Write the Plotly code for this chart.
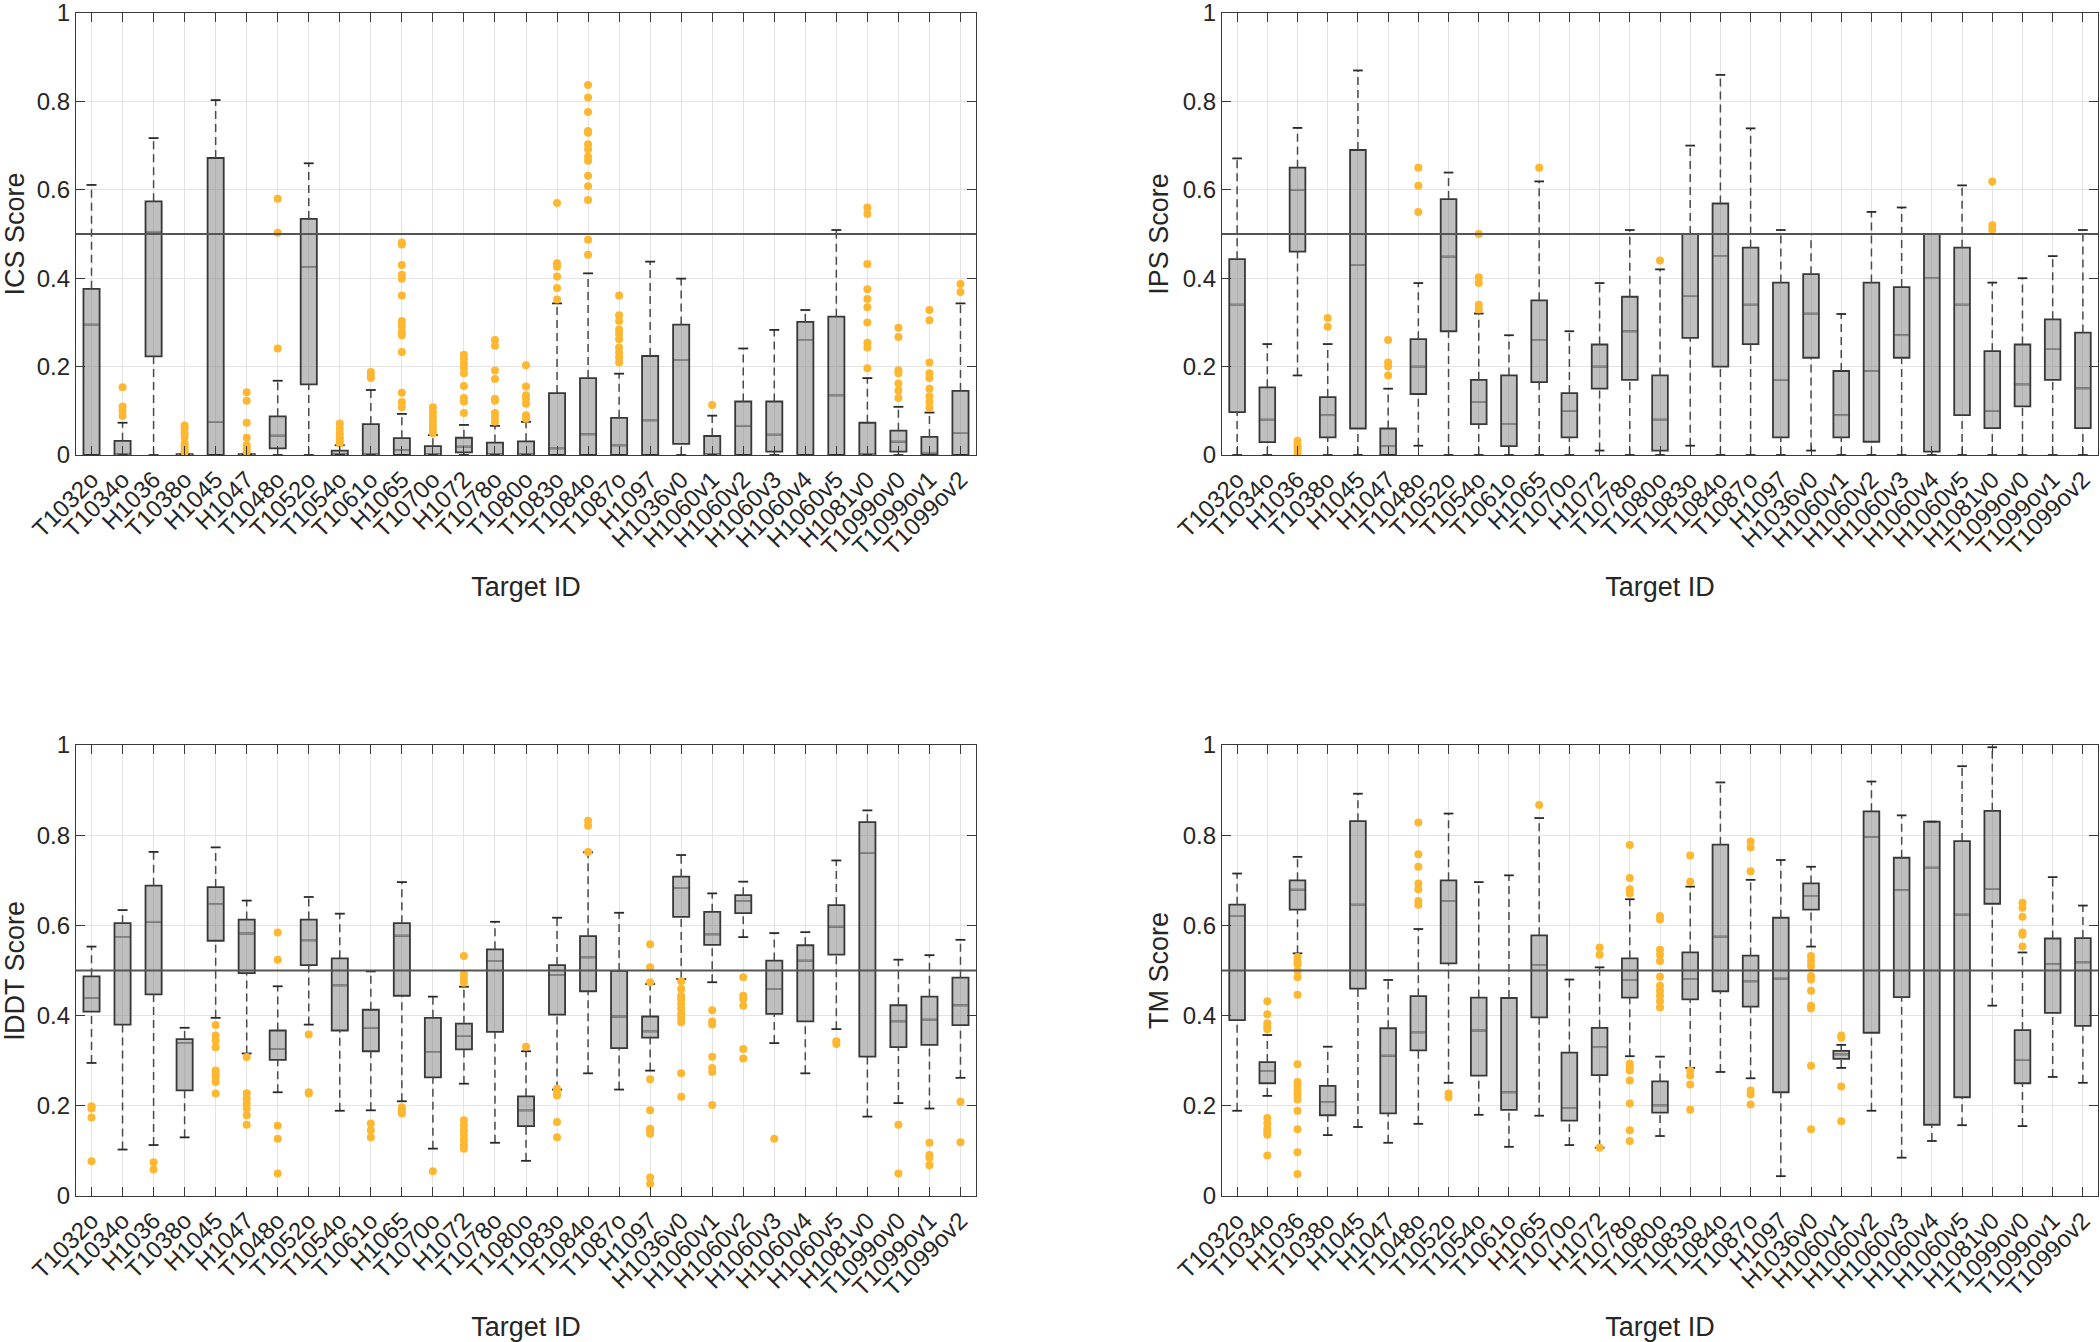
import plotly.graph_objects as go

CATEGORIES = ["T1032o", "T1034o", "H1036", "T1038o", "H1045", "H1047", "T1048o",
              "T1052o", "T1054o", "T1061o", "H1065", "T1070o", "H1072", "T1078o",
              "T1080o", "T1083o", "T1084o", "T1087o", "H1097", "H1036v0", "H1060v1",
              "H1060v2", "H1060v3", "H1060v4", "H1060v5", "H1081v0", "T1099ov0",
              "T1099ov1", "T1099ov2"]
Y_TICKS = [0, 0.2, 0.4, 0.6, 0.8, 1]
Y_TICK_LABELS = ["0", "0.2", "0.4", "0.6", "0.8", "1"]
THRESHOLD = 0.5

# ---------------- ICS ----------------
ICS_Q1 = [0, 0, 0.223, 0, 0, 0, 0.015, 0.160, 0, 0, 0, 0, 0.006, 0, 0,
          0, 0, 0, 0, 0.025, 0, 0, 0.0075, 0, 0, 0, 0.0075, 0, 0]
ICS_MED = [0.295, 0.002, 0.505, 0, 0.075, 0, 0.044, 0.425, 0.002, 0.002, 0.011, 0.002, 0.019, 0.002, 0.002,
           0.015, 0.047, 0.022, 0.0785, 0.215, 0.002, 0.066, 0.046, 0.26, 0.135, 0.002, 0.03, 0.005, 0.05]
ICS_Q3 = [0.376, 0.032, 0.574, 0.002, 0.672, 0.002, 0.0875, 0.534, 0.0097, 0.070, 0.038, 0.020, 0.039, 0.028, 0.031,
          0.140, 0.174, 0.084, 0.224, 0.295, 0.043, 0.121, 0.121, 0.301, 0.313, 0.073, 0.055, 0.041, 0.145]
ICS_LO = [0, 0, 0, 0, 0, 0, 0, 0, 0, 0, 0, 0, 0, 0, 0,
          0, 0, 0, 0, 0, 0, 0, 0, 0, 0, 0, 0, 0, 0]
ICS_HI = [0.611, 0.073, 0.717, 0.002, 0.803, 0.002, 0.168, 0.660, 0.022, 0.147, 0.093, 0.045, 0.068, 0.066, 0.075,
          0.343, 0.411, 0.184, 0.4375, 0.399, 0.089, 0.241, 0.283, 0.328, 0.509, 0.174, 0.109, 0.096, 0.343]
ICS_OUT = [
    [],
    [0.153, 0.110, 0.100, 0.088],
    [],
    [0.067, 0.060, 0.049, 0.040, 0.026, 0.019, 0.011, 0.006],
    [],
    [0.142, 0.123, 0.073, 0.039, 0.022, 0.015, 0.007],
    [0.580, 0.503, 0.241],
    [],
    [0.071, 0.060, 0.049, 0.040, 0.034, 0.026],
    [0.188, 0.181, 0.174],
    [0.481, 0.476, 0.430, 0.408, 0.399, 0.361, 0.303, 0.292, 0.279, 0.271, 0.233, 0.141, 0.120, 0.108],
    [0.108, 0.097, 0.086, 0.077, 0.067, 0.058, 0.049],
    [0.227, 0.217, 0.206, 0.197, 0.185, 0.156, 0.129, 0.121, 0.095],
    [0.260, 0.247, 0.191, 0.172, 0.127, 0.123, 0.095, 0.086, 0.075],
    [0.203, 0.155, 0.135, 0.127, 0.116, 0.090, 0.082],
    [0.570, 0.434, 0.426, 0.404, 0.378, 0.352],
    [0.837, 0.809, 0.776, 0.733, 0.729, 0.703, 0.692, 0.675, 0.666, 0.632, 0.608, 0.577, 0.487, 0.453],
    [0.361, 0.316, 0.303, 0.284, 0.273, 0.262, 0.243, 0.232, 0.221, 0.209],
    [],
    [],
    [0.113],
    [],
    [],
    [],
    [],
    [0.560, 0.545, 0.432, 0.375, 0.353, 0.334, 0.300, 0.254, 0.243, 0.196],
    [0.288, 0.267, 0.192, 0.185, 0.162, 0.146, 0.129],
    [0.328, 0.305, 0.209, 0.185, 0.174, 0.150, 0.133, 0.120, 0.107],
    [0.387, 0.369],
]

# ---------------- IPS ----------------
IPS_Q1 = [0.097, 0.029, 0.460, 0.040, 0.060, 0, 0.138, 0.280, 0.070, 0.020, 0.165, 0.040, 0.150, 0.170, 0.010,
          0.265, 0.200, 0.251, 0.040, 0.220, 0.040, 0.030, 0.220, 0.0075, 0.090, 0.061, 0.110, 0.170, 0.061]
IPS_MED = [0.340, 0.080, 0.600, 0.090, 0.430, 0.020, 0.200, 0.449, 0.120, 0.070, 0.260, 0.100, 0.200, 0.280, 0.080,
           0.360, 0.450, 0.340, 0.170, 0.320, 0.090, 0.190, 0.271, 0.400, 0.340, 0.100, 0.160, 0.240, 0.151]
IPS_Q3 = [0.443, 0.153, 0.650, 0.131, 0.690, 0.060, 0.262, 0.579, 0.170, 0.180, 0.350, 0.140, 0.250, 0.358, 0.180,
          0.500, 0.569, 0.469, 0.390, 0.409, 0.190, 0.390, 0.380, 0.500, 0.469, 0.235, 0.250, 0.307, 0.277]
IPS_LO = [0, 0, 0.180, 0, 0, 0, 0.021, 0, 0, 0, 0, 0, 0.010, 0, 0,
          0.021, 0, 0, 0, 0.010, 0, 0, 0, 0, 0, 0, 0, 0, 0]
IPS_HI = [0.671, 0.251, 0.740, 0.251, 0.870, 0.150, 0.389, 0.639, 0.320, 0.271, 0.619, 0.280, 0.389, 0.509, 0.420,
          0.700, 0.860, 0.739, 0.509, 0.500, 0.319, 0.550, 0.560, 0.500, 0.610, 0.390, 0.400, 0.450, 0.509]
IPS_OUT = [
    [], [],
    [0.032, 0.022, 0.015, 0.0075, 0.0],
    [0.310, 0.290],
    [],
    [0.260, 0.209, 0.200, 0.180],
    [0.650, 0.609, 0.550],
    [],
    [0.500, 0.402, 0.389, 0.340, 0.329],
    [],
    [0.650],
    [], [], [],
    [0.440],
    [], [], [], [], [], [], [], [], [], [],
    [0.619, 0.520, 0.510],
    [], [], [],
]

# ---------------- lDDT ----------------
LDDT_Q1 = [0.409, 0.380, 0.447, 0.234, 0.566, 0.494, 0.302, 0.512, 0.367, 0.321, 0.444, 0.263, 0.325, 0.364, 0.155,
           0.402, 0.454, 0.328, 0.351, 0.619, 0.557, 0.627, 0.404, 0.387, 0.535, 0.309, 0.330, 0.335, 0.379]
LDDT_MED = [0.439, 0.574, 0.608, 0.339, 0.647, 0.582, 0.326, 0.567, 0.467, 0.373, 0.577, 0.319, 0.355, 0.521, 0.190,
            0.490, 0.529, 0.398, 0.365, 0.683, 0.580, 0.654, 0.459, 0.522, 0.597, 0.761, 0.387, 0.391, 0.423]
LDDT_Q3 = [0.487, 0.605, 0.688, 0.348, 0.685, 0.613, 0.367, 0.613, 0.527, 0.413, 0.605, 0.395, 0.382, 0.547, 0.221,
           0.512, 0.576, 0.499, 0.398, 0.708, 0.630, 0.667, 0.522, 0.556, 0.645, 0.829, 0.423, 0.442, 0.484]
LDDT_LO = [0.295, 0.103, 0.113, 0.130, 0.395, 0.316, 0.230, 0.380, 0.189, 0.190, 0.210, 0.105, 0.249, 0.118, 0.078,
           0.236, 0.272, 0.236, 0.278, 0.481, 0.474, 0.574, 0.339, 0.272, 0.370, 0.176, 0.206, 0.194, 0.262]
LDDT_HI = [0.553, 0.634, 0.763, 0.373, 0.773, 0.655, 0.465, 0.663, 0.626, 0.498, 0.696, 0.442, 0.464, 0.608, 0.321,
           0.617, 0.762, 0.628, 0.470, 0.756, 0.671, 0.697, 0.583, 0.585, 0.744, 0.855, 0.524, 0.534, 0.568]
LDDT_OUT = [
    [0.199, 0.194, 0.174, 0.077],
    [],
    [0.075, 0.059],
    [],
    [0.379, 0.356, 0.345, 0.330, 0.278, 0.271, 0.264, 0.253, 0.227],
    [0.308, 0.228, 0.216, 0.205, 0.194, 0.179, 0.158],
    [0.584, 0.524, 0.156, 0.127, 0.050],
    [0.358, 0.230, 0.227],
    [],
    [0.161, 0.146, 0.130],
    [0.197, 0.190, 0.183],
    [0.055],
    [0.532, 0.492, 0.483, 0.473, 0.168, 0.157, 0.146, 0.135, 0.124, 0.113, 0.105],
    [],
    [0.331],
    [0.238, 0.227, 0.223, 0.164, 0.130],
    [0.832, 0.821, 0.763],
    [],
    [0.558, 0.507, 0.474, 0.259, 0.190, 0.149, 0.146, 0.138, 0.041, 0.027],
    [0.476, 0.459, 0.444, 0.437, 0.426, 0.415, 0.404, 0.395, 0.385, 0.272, 0.220],
    [0.412, 0.387, 0.380, 0.309, 0.284, 0.275, 0.202],
    [0.485, 0.444, 0.437, 0.422, 0.326, 0.305],
    [0.127],
    [],
    [0.343, 0.337],
    [],
    [0.158, 0.050],
    [0.118, 0.091, 0.085, 0.068],
    [0.209, 0.119],
]

# ---------------- TM ----------------
TM_Q1 = [0.390, 0.250, 0.635, 0.179, 0.460, 0.183, 0.323, 0.516, 0.267, 0.191, 0.396, 0.167, 0.268, 0.440, 0.185,
         0.436, 0.454, 0.420, 0.230, 0.635, 0.304, 0.362, 0.441, 0.158, 0.219, 0.648, 0.250, 0.406, 0.377]
TM_MED = [0.621, 0.277, 0.679, 0.208, 0.646, 0.311, 0.363, 0.654, 0.367, 0.230, 0.512, 0.195, 0.330, 0.479, 0.201,
          0.481, 0.575, 0.476, 0.482, 0.665, 0.314, 0.796, 0.678, 0.728, 0.624, 0.681, 0.302, 0.514, 0.518]
TM_Q3 = [0.646, 0.297, 0.700, 0.244, 0.831, 0.372, 0.443, 0.700, 0.440, 0.439, 0.578, 0.318, 0.373, 0.527, 0.254,
         0.540, 0.779, 0.533, 0.617, 0.693, 0.322, 0.853, 0.750, 0.830, 0.787, 0.854, 0.368, 0.571, 0.572]
TM_LO = [0.189, 0.222, 0.538, 0.135, 0.153, 0.118, 0.160, 0.251, 0.180, 0.109, 0.178, 0.113, 0.107, 0.310, 0.133,
         0.284, 0.275, 0.261, 0.044, 0.553, 0.284, 0.189, 0.085, 0.122, 0.157, 0.422, 0.155, 0.264, 0.251]
TM_HI = [0.715, 0.357, 0.752, 0.331, 0.892, 0.479, 0.592, 0.848, 0.696, 0.711, 0.838, 0.480, 0.507, 0.658, 0.309,
         0.686, 0.917, 0.701, 0.745, 0.730, 0.335, 0.919, 0.844, 0.830, 0.953, 0.995, 0.540, 0.707, 0.644]
TM_OUT = [
    [],
    [0.432, 0.403, 0.383, 0.376, 0.370, 0.173, 0.161, 0.149, 0.142, 0.136, 0.090],
    [0.530, 0.521, 0.514, 0.499, 0.485, 0.446, 0.292, 0.253, 0.245, 0.234, 0.225, 0.214, 0.189, 0.148, 0.097, 0.049],
    [],
    [],
    [],
    [0.828, 0.758, 0.730, 0.693, 0.680, 0.654, 0.646],
    [0.227, 0.219],
    [],
    [],
    [0.867],
    [],
    [0.551, 0.535, 0.107],
    [0.778, 0.705, 0.680, 0.671, 0.293, 0.286, 0.278, 0.256, 0.205, 0.146, 0.122],
    [0.621, 0.613, 0.546, 0.535, 0.521, 0.486, 0.466, 0.455, 0.444, 0.432, 0.418],
    [0.755, 0.697, 0.278, 0.267, 0.247, 0.191],
    [],
    [0.786, 0.773, 0.720, 0.234, 0.225, 0.203],
    [],
    [0.532, 0.521, 0.510, 0.488, 0.480, 0.455, 0.422, 0.416, 0.289, 0.148],
    [0.356, 0.351, 0.243, 0.166],
    [], [], [], [], [],
    [0.650, 0.639, 0.619, 0.584, 0.579, 0.553],
    [],
    [],
]

PANELS = [
    ("ICS Score", ICS_Q1, ICS_MED, ICS_Q3, ICS_LO, ICS_HI, ICS_OUT),
    ("IPS Score", IPS_Q1, IPS_MED, IPS_Q3, IPS_LO, IPS_HI, IPS_OUT),
    ("lDDT Score", LDDT_Q1, LDDT_MED, LDDT_Q3, LDDT_LO, LDDT_HI, LDDT_OUT),
    ("TM Score", TM_Q1, TM_MED, TM_Q3, TM_LO, TM_HI, TM_OUT),
]

# ---------------- styling ----------------
W, H = 2100, 1342
X_DOMAINS = [[76 / W, 976 / W], [1222 / W, 2098 / W]]
Y_DOMAINS = [[1 - 455 / H, 1 - 13 / H], [1 - 1196 / H, 1 - 745 / H]]
FONT = "Liberation Sans, Arial, Helvetica, sans-serif"
TXT = "#262626"
AX_LINE = "#3a3a3a"
GRID = "#e3e3e3"
BOX_FILL = "rgba(128,128,128,0.5)"
BOX_EDGE = "#383838"
MED_COLOR = "#8a8a8a"
OUT_COLOR = "#FDB731"
BOX_W = 0.52
CAP_HALF = 0.16

fig = go.Figure()
positions = list(range(1, len(CATEGORIES) + 1))

for k, (title, q1, med, q3, lo, hi, out) in enumerate(PANELS):
    sfx = "" if k == 0 else str(k + 1)
    xa, ya = "x" + sfx, "y" + sfx

    # boxes
    fig.add_trace(go.Box(
        x=positions, q1=q1, median=med, q3=q3, lowerfence=q1, upperfence=q3,
        width=BOX_W, fillcolor=BOX_FILL, line=dict(color=BOX_EDGE, width=1.8),
        whiskerwidth=0, boxpoints=False, hoverinfo="skip",
        xaxis=xa, yaxis=ya, showlegend=False,
    ))

    # median lines (lighter gray, as in MATLAB boxplot)
    mx, my = [], []
    for p, m in zip(positions, med):
        mx += [p - BOX_W / 2 + 0.03, p + BOX_W / 2 - 0.03, None]
        my += [m, m, None]
    fig.add_trace(go.Scatter(x=mx, y=my, mode="lines",
                             line=dict(color=MED_COLOR, width=1.8),
                             xaxis=xa, yaxis=ya, showlegend=False, hoverinfo="skip"))

    # whiskers (dashed)
    wx, wy = [], []
    for p, a, b, c, d in zip(positions, lo, q1, q3, hi):
        wx += [p, p, None, p, p, None]
        wy += [a, b, None, c, d, None]
    fig.add_trace(go.Scatter(x=wx, y=wy, mode="lines",
                             line=dict(color="#4a4a4a", width=1.5, dash="8px,5px"),
                             xaxis=xa, yaxis=ya, showlegend=False, hoverinfo="skip"))

    # whisker caps
    cx, cy = [], []
    for p, a, d in zip(positions, lo, hi):
        cx += [p - CAP_HALF, p + CAP_HALF, None, p - CAP_HALF, p + CAP_HALF, None]
        cy += [a, a, None, d, d, None]
    fig.add_trace(go.Scatter(x=cx, y=cy, mode="lines",
                             line=dict(color="#2a2a2a", width=1.8),
                             xaxis=xa, yaxis=ya, showlegend=False, hoverinfo="skip"))

    # outliers
    ox, oy = [], []
    for p, vals in zip(positions, out):
        ox += [p] * len(vals)
        oy += vals
    fig.add_trace(go.Scatter(x=ox, y=oy, mode="markers",
                             marker=dict(color=OUT_COLOR, size=8, line=dict(width=0)),
                             xaxis=xa, yaxis=ya, showlegend=False, cliponaxis=True))

    # threshold line at 0.5
    fig.add_shape(type="line", xref=xa + " domain", yref=ya, x0=0, x1=1,
                  y0=THRESHOLD, y1=THRESHOLD, line=dict(color="#555555", width=2.2),
                  layer="above")

    col, row = k % 2, k // 2
    axis_common = dict(showline=True, linecolor=AX_LINE, linewidth=1.2, mirror="ticks",
                       ticks="inside", ticklen=9, tickwidth=1.2, tickcolor=AX_LINE,
                       showgrid=True, gridcolor=GRID, gridwidth=1, zeroline=False,
                       automargin=False, ticklabeloverflow="allow",
                       tickfont=dict(family=FONT, size=24, color=TXT))
    fig.layout["xaxis" + sfx] = dict(
        domain=X_DOMAINS[col], anchor=ya, range=[0.5, len(CATEGORIES) + 0.5],
        tickmode="array", tickvals=positions, ticktext=CATEGORIES, tickangle=-45,
        title=dict(text="Target ID", font=dict(family=FONT, size=27, color=TXT), standoff=17),
        **axis_common)
    fig.layout["yaxis" + sfx] = dict(
        domain=Y_DOMAINS[row], anchor=xa, range=[0, 1],
        tickmode="array", tickvals=Y_TICKS, ticktext=Y_TICK_LABELS,
        title=dict(text=title, font=dict(family=FONT, size=27, color=TXT), standoff=6),
        **axis_common)

fig.update_layout(
    width=W, height=H, autosize=False,
    margin=dict(l=0, r=0, t=0, b=0),
    paper_bgcolor="white", plot_bgcolor="white",
    font=dict(family=FONT, color=TXT),
    showlegend=False,
)

fig.write_html("out.html", config={"displayModeBar": False},
               post_script="document.body.style.margin='0';document.body.style.padding='0';")
